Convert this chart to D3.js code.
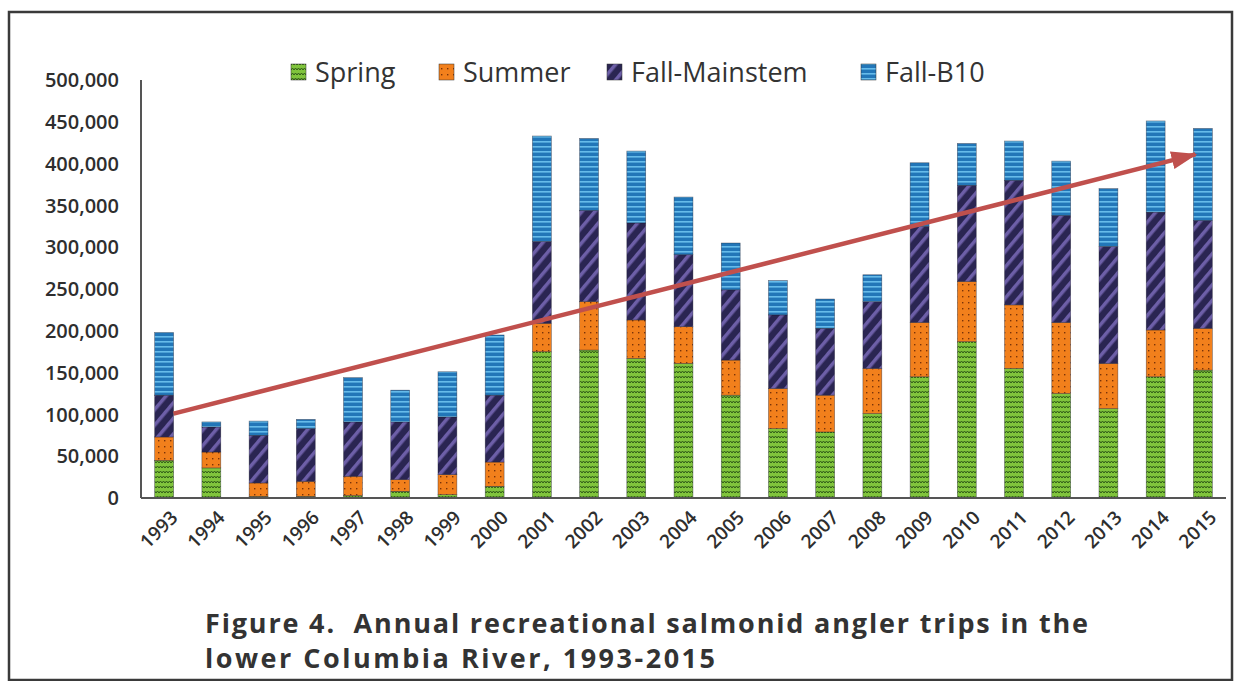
<!DOCTYPE html>
<html>
<head>
<meta charset="utf-8">
<script src="https://cdn.jsdelivr.net/npm/d3@7"></script>
<style>
  body { margin: 0; background: #fff; }
  svg { display: block; }
  .tick-label, .year-label { font-family: "Open Sans", sans-serif; font-weight: 600; fill: #2e2e2e; }
  .legend-label { font-family: "Open Sans", sans-serif; fill: #333; }
  .caption { font-family: "Open Sans", sans-serif; font-weight: 700; fill: #333; white-space: pre; }
</style>
</head>
<body>
<div id="chart"></div>
<script>
// values (angler trips)
const years = ['1993','1994','1995','1996','1997','1998','1999','2000','2001','2002','2003','2004',
               '2005','2006','2007','2008','2009','2010','2011','2012','2013','2014','2015'];
const spring       = [45000, 36000, 2000, 2000, 3000, 8000, 4000, 14000, 175000, 177000, 167000, 161000,
                      123000, 83000, 79000, 101000, 145000, 187000, 155000, 125000, 107000, 145000, 153000];
const summer       = [28000, 19000, 16000, 18000, 23000, 14000, 24000, 29000, 34000, 58000, 46000, 44000,
                      42000, 48000, 44000, 54000, 65000, 72000, 76000, 85000, 54000, 56000, 50000];
const fallMainstem = [50000, 30000, 57000, 63000, 65000, 69000, 69000, 80000, 98000, 109000, 116000, 86000,
                      84000, 88000, 80000, 80000, 115000, 115000, 149000, 128000, 140000, 141000, 129000];
const fallB10      = [75000, 6000, 17000, 11000, 53000, 38000, 54000, 72000, 126000, 86000, 86000, 69000,
                      56000, 41000, 35000, 32000, 76000, 50000, 47000, 65000, 69000, 109000, 110000];
const seriesNames  = ['Spring', 'Summer', 'Fall-Mainstem', 'Fall-B10'];
const yTicks       = [0, 50000, 100000, 150000, 200000, 250000, 300000, 350000, 400000, 450000, 500000];
// trend arrow drawn on top: [year, trips]
const trendStart   = ['1993', 101000];
const trendEnd     = ['2015', 411000];
const captionLines = ['Figure 4.  Annual recreational salmonid angler trips in the',
                      'lower Columbia River, 1993-2015'];

class StackedBars {

  constructor(_config) {
    this.config = {
      parentElement: _config.parentElement,
      containerWidth: 1235,
      containerHeight: 681,
      plotLeft: 141, plotRight: 1226, plotTop: 80, plotBottom: 498
    };
    this.initVis();
  }

  initVis() {
    let vis = this;
    const c = vis.config;

    vis.svg = d3.select(c.parentElement).append('svg')
      .attr('width', c.containerWidth)
      .attr('height', c.containerHeight);

    vis.defs = vis.svg.append('defs');
    vis.makePatterns();

    // outer frame of the figure
    vis.svg.append('rect')
      .attr('x', 9).attr('y', 12)
      .attr('width', 1223).attr('height', 668)
      .attr('fill', 'none')
      .attr('stroke', '#3a3a3a')
      .attr('stroke-width', 2.5);

    vis.x = d3.scaleBand()
      .domain(years)
      .range([c.plotLeft, c.plotRight])
      .paddingInner(0.6)
      .paddingOuter(0.29);

    vis.y = d3.scaleLinear()
      .domain([0, 500000])
      .range([c.plotBottom, c.plotTop]);

    vis.chart = vis.svg.append('g');
    vis.renderVis();
  }

  makePatterns() {
    let vis = this;

    // spring: green with dark zigzag
    const sp = vis.defs.append('pattern').attr('id', 'pat-spring')
      .attr('patternUnits', 'userSpaceOnUse').attr('width', 6).attr('height', 5);
    sp.append('rect').attr('width', 6).attr('height', 5).attr('fill', '#80c43c');
    sp.append('path').attr('d', 'M0,3 L1.5,1 L3,3 L4.5,1 L6,3')
      .attr('fill', 'none').attr('stroke', '#2f5a17').attr('stroke-width', 1);

    // summer: orange with dark dots
    const su = vis.defs.append('pattern').attr('id', 'pat-summer')
      .attr('patternUnits', 'userSpaceOnUse').attr('width', 6).attr('height', 6);
    su.append('rect').attr('width', 6).attr('height', 6).attr('fill', '#f2801c');
    su.append('rect').attr('x', 2).attr('y', 2).attr('width', 1.4).attr('height', 1.4).attr('fill', '#7a3308');

    // fall mainstem: navy with purple diagonal stripes
    const fm = vis.defs.append('pattern').attr('id', 'pat-fallm')
      .attr('patternUnits', 'userSpaceOnUse').attr('width', 10).attr('height', 10)
      .attr('patternTransform', 'rotate(40)');
    fm.append('rect').attr('width', 10).attr('height', 10).attr('fill', '#2a2552');
    fm.append('rect').attr('x', 0).attr('width', 3.5).attr('height', 10).attr('fill', '#6d5fa8');

    // fall B10: blue with light horizontal lines
    const fb = vis.defs.append('pattern').attr('id', 'pat-fallb')
      .attr('patternUnits', 'userSpaceOnUse').attr('width', 6).attr('height', 5);
    fb.append('rect').attr('width', 6).attr('height', 5).attr('fill', '#2276b8');
    fb.append('rect').attr('y', 1).attr('width', 6).attr('height', 1.6).attr('fill', '#66bbea');

    vis.fills = ['url(#pat-spring)', 'url(#pat-summer)', 'url(#pat-fallm)', 'url(#pat-fallb)'];

    vis.defs.append('marker')
      .attr('id', 'arrow-head')
      .attr('markerUnits', 'userSpaceOnUse')
      .attr('viewBox', '0 0 26 18')
      .attr('refX', 24).attr('refY', 9)
      .attr('markerWidth', 26).attr('markerHeight', 18)
      .attr('orient', 'auto')
      .append('path')
      .attr('d', 'M0,0 L26,9 L0,18 Z')
      .attr('fill', '#c0504d');
  }

  renderVis() {
    let vis = this;
    const c = vis.config;

    const rows = years.map((yr, i) => ({
      year: yr,
      'Spring': spring[i],
      'Summer': summer[i],
      'Fall-Mainstem': fallMainstem[i],
      'Fall-B10': fallB10[i]
    }));
    const stacked = d3.stack().keys(seriesNames)(rows);

    vis.chart.selectAll('.series')
      .data(stacked)
      .join('g')
      .attr('class', 'series')
      .attr('fill', (d, i) => vis.fills[i])
      .selectAll('rect')
      .data(d => d)
      .join('rect')
      .attr('x', d => vis.x(d.data.year))
      .attr('width', vis.x.bandwidth())
      .attr('y', d => vis.y(d[1]))
      .attr('height', d => vis.y(d[0]) - vis.y(d[1]))
      .attr('stroke', '#1d1d2e')
      .attr('stroke-width', 0.6)
      .attr('stroke-opacity', 0.6);

    // axes lines
    vis.chart.append('line')
      .attr('x1', c.plotLeft).attr('x2', c.plotLeft)
      .attr('y1', vis.y(500000)).attr('y2', c.plotBottom)
      .attr('stroke', '#555').attr('stroke-width', 2);
    vis.chart.append('line')
      .attr('x1', c.plotLeft).attr('x2', c.plotRight)
      .attr('y1', c.plotBottom).attr('y2', c.plotBottom)
      .attr('stroke', '#555').attr('stroke-width', 2);

    vis.chart.selectAll('.tick-label')
      .data(yTicks)
      .join('text')
      .attr('class', 'tick-label')
      .attr('x', 119)
      .attr('y', d => vis.y(d))
      .attr('dy', '0.36em')
      .attr('text-anchor', 'end')
      .style('font-size', '20px')
      .text(d => d3.format(',')(d));

    vis.chart.selectAll('.year-label')
      .data(years)
      .join('text')
      .attr('class', 'year-label')
      .attr('transform', d => `translate(${vis.x(d) + vis.x.bandwidth() / 2 + 10},${c.plotBottom + 16}) rotate(-45)`)
      .attr('text-anchor', 'end')
      .attr('dy', '0.35em')
      .style('font-size', '19px')
      .text(d => d);

    // legend
    const legendX = [291, 439, 607, 861];
    const legend = vis.chart.selectAll('.legend-item')
      .data(seriesNames)
      .join('g')
      .attr('class', 'legend-item')
      .attr('transform', (d, i) => `translate(${legendX[i]},72)`);
    legend.append('rect')
      .attr('x', 0).attr('y', -8)
      .attr('width', 15).attr('height', 16)
      .attr('fill', (d, i) => vis.fills[i])
      .attr('stroke', '#333').attr('stroke-width', 0.5);
    legend.append('text')
      .attr('class', 'legend-label')
      .attr('x', 24)
      .attr('dy', '0.36em')
      .style('font-size', '27px')
      .text(d => d);

    // trend arrow
    const bw = vis.x.bandwidth();
    vis.chart.append('line')
      .attr('x1', vis.x(trendStart[0]) + bw)
      .attr('y1', vis.y(trendStart[1]))
      .attr('x2', vis.x(trendEnd[0]) + 2)
      .attr('y2', vis.y(trendEnd[1]))
      .attr('stroke', '#c0504d')
      .attr('stroke-width', 4.5)
      .attr('marker-end', 'url(#arrow-head)');

    // caption
    const captionWidths = [883, 510];
    vis.svg.selectAll('.caption')
      .data(captionLines)
      .join('text')
      .attr('class', 'caption')
      .attr('x', 205)
      .attr('y', (d, i) => 633 + i * 35)
      .attr('textLength', (d, i) => captionWidths[i])
      .attr('lengthAdjust', 'spacing')
      .style('font-size', '27px')
      .text(d => d);
  }
}

new StackedBars({ parentElement: '#chart' });
</script>
</body>
</html>
